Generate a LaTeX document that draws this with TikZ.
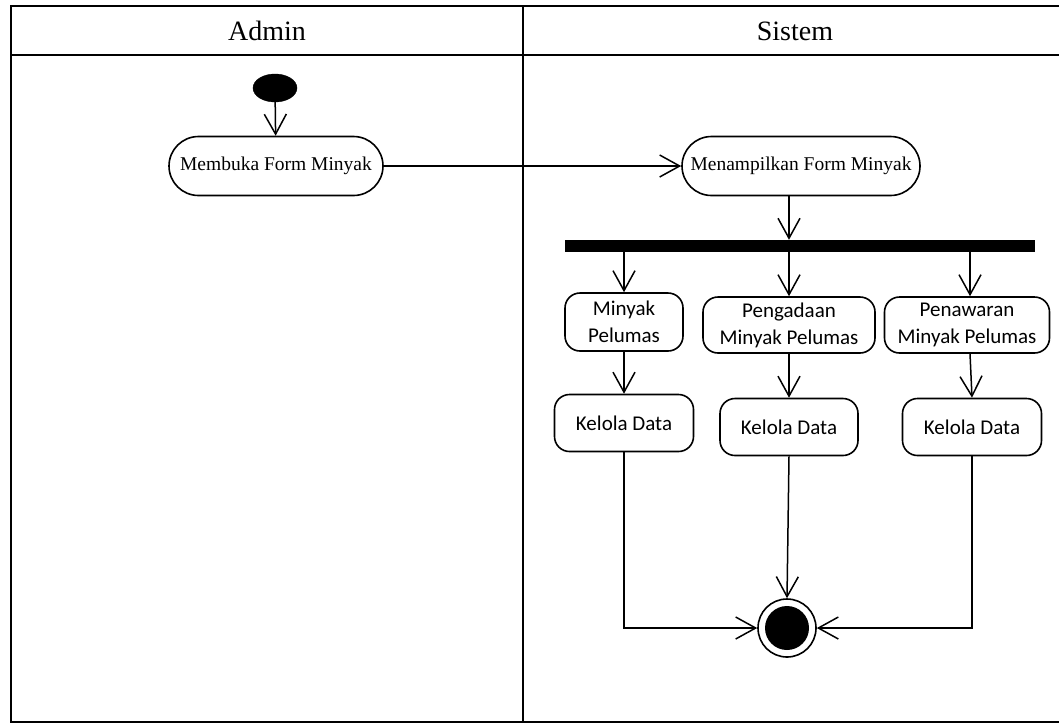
\documentclass[tikz,border=0pt]{standalone}
\usepackage{fontspec}
\setmainfont{Liberation Serif}
\newfontfamily\calfont{Carlito}
\usetikzlibrary{arrows.meta,calc,shapes.geometric}

\tikzset{
  lane/.style={line width=2.2pt},
  stadium/.style={draw, line width=1.6pt, rounded corners=29.5pt, minimum height=59pt,
    inner sep=0pt, font=\fontsize{19.5}{23}\selectfont},
  actbox/.style={draw, line width=1.6pt, rounded corners=15pt, minimum height=57pt,
    inner sep=0pt, align=center, font=\calfont\fontsize{21}{27}\selectfont},
  flow/.style={line width=1.5pt, -{Straight Barb[length=20pt,width=22pt,line width=1.5pt]}},
  lanetitle/.style={font=\fontsize{28}{32}\selectfont, inner sep=0pt},
}

\begin{document}
\begin{tikzpicture}[x=1pt,y=-1pt]
\useasboundingbox (0,0) rectangle (1059,724);

% swimlane frame
\draw[lane] (1062,6) -- (11,6) -- (11,722) -- (1062,722);
\draw[lane] (11,55) -- (1062,55);
\draw[lane] (523,6) -- (523,722);
\node[lanetitle] (tadmin) at (267,31) {Admin};
\node[lanetitle] (tsistem) at (795,31) {Sistem};

% start
\node[draw, fill=black, ellipse, minimum width=44pt, minimum height=28pt, inner sep=0pt] (start) at (275,88) {};

% actions
\node[stadium, minimum width=214pt] (buka) at (276,166) {Membuka Form Minyak};
\node[stadium, minimum width=238pt] (tampil) at (801,166) {Menampilkan Form Minyak};

% fork bar
\node[fill=black, minimum width=470pt, minimum height=12pt, inner sep=0pt] (fork) at (800,246) {};
\coordinate (b1) at (624,246);
\coordinate (b2) at (789,246);
\coordinate (b3) at (970,246);

\node[actbox, minimum width=118pt, minimum height=58pt] (mp) at (624,322) {Minyak\\Pelumas};
\node[actbox, minimum width=172pt, minimum height=56pt] (pg) at (789,325) {Pengadaan\\Minyak Pelumas};
\node[actbox, minimum width=165pt, minimum height=56pt] (pw) at (967,325) {Penawaran\\Minyak Pelumas};

\node[actbox, minimum width=139pt] (k1) at (624,423) {Kelola Data};
\node[actbox, minimum width=138pt] (k2) at (789,427) {Kelola Data};
\node[actbox, minimum width=139pt] (k3) at (972,427) {Kelola Data};

% end
\node[draw, circle, line width=1.6pt, minimum size=58pt, inner sep=0pt] (end) at (787,628) {};
\fill (end.center) circle (22pt);

% flows
\draw[flow] (start) -- (buka);
\draw[flow] (buka) -- (tampil);
\draw[flow] (tampil.south -| b2) -- (fork.north -| b2);
\draw[flow] (fork.south -| b1) -- (mp.north -| b1);
\draw[flow] (fork.south -| b2) -- (pg.north -| b2);
\draw[flow] (fork.south -| b3) -- (pw.north -| b3);
\draw[flow] (mp) -- (k1);
\draw[flow] (pg) -- (k2);
\draw[flow] (pw.south -| b3) -- (k3.north);
\draw[flow] (k2.south) -- (end.north);
\draw[flow] (k1.south) |- (end.west);
\draw[flow] (k3.south) |- (end.east);
\end{tikzpicture}
\end{document}
